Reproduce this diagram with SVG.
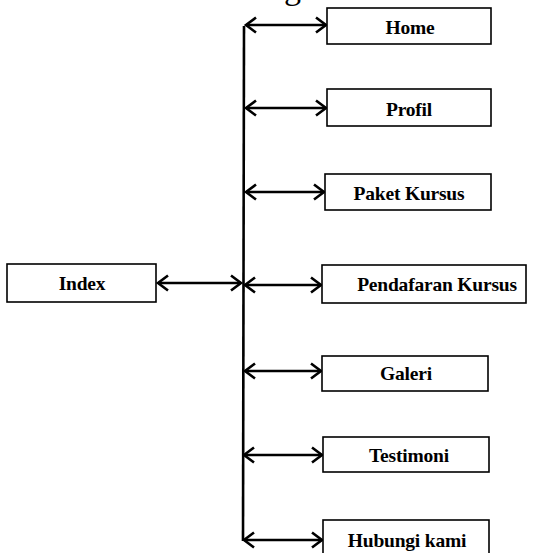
<svg xmlns="http://www.w3.org/2000/svg" width="550" height="553" viewBox="0 0 550 553">
<style>
.box{fill:#fff;stroke:#000;stroke-width:1.6}
.lbl{font-family:"Liberation Serif","Times New Roman",serif;font-weight:bold;font-size:19.5px;letter-spacing:-0.2px;text-anchor:middle;fill:#000}
.cap{font-family:"Liberation Serif","Times New Roman",serif;font-size:34px;fill:#000}
.ln{stroke:#000;stroke-width:2.6;fill:none}
</style>
<defs>
<marker id="ah" markerUnits="userSpaceOnUse" viewBox="-13 -10 16 20" refX="0" refY="0" markerWidth="16" markerHeight="20" orient="auto-start-reverse">
<path d="M-10,-7.5 L0,0 L-10,7.5" fill="none" stroke="#000" stroke-width="2.6"/>
</marker>
</defs>
<text class="cap" x="284" y="-1">g</text>
<g id="connectors">
<line class="ln" x1="244" y1="26" x2="243" y2="541"/>
<line class="ln" x1="158" y1="283" x2="241" y2="283" marker-start="url(#ah)" marker-end="url(#ah)"/>
<line class="ln" x1="246" y1="25" x2="326" y2="25" marker-start="url(#ah)" marker-end="url(#ah)"/>
<line class="ln" x1="246" y1="108" x2="326" y2="108" marker-start="url(#ah)" marker-end="url(#ah)"/>
<line class="ln" x1="246" y1="192" x2="324" y2="192" marker-start="url(#ah)" marker-end="url(#ah)"/>
<line class="ln" x1="245" y1="285" x2="321" y2="285" marker-start="url(#ah)" marker-end="url(#ah)"/>
<line class="ln" x1="245" y1="371" x2="321" y2="371" marker-start="url(#ah)" marker-end="url(#ah)"/>
<line class="ln" x1="244" y1="455" x2="322" y2="455" marker-start="url(#ah)" marker-end="url(#ah)"/>
<line class="ln" x1="244" y1="540" x2="322" y2="540" marker-start="url(#ah)" marker-end="url(#ah)"/>
</g>
<g id="index"><rect class="box" x="7" y="264" width="149" height="38"/><text class="lbl" x="82" y="290">Index</text></g>
<g id="home"><rect class="box" x="327" y="8" width="164" height="36"/><text class="lbl" x="410" y="34">Home</text></g>
<g id="profil"><rect class="box" x="327" y="89" width="164" height="37"/><text class="lbl" x="409" y="116">Profil</text></g>
<g id="paket-kursus"><rect class="box" x="325" y="174" width="166" height="36"/><text class="lbl" x="409" y="200">Paket Kursus</text></g>
<g id="pendafaran-kursus"><rect class="box" x="322" y="265" width="204" height="38"/><text class="lbl" x="437" y="291">Pendafaran Kursus</text></g>
<g id="galeri"><rect class="box" x="322" y="356" width="166" height="35"/><text class="lbl" x="406" y="380">Galeri</text></g>
<g id="testimoni"><rect class="box" x="323" y="437" width="166" height="35"/><text class="lbl" x="409" y="462">Testimoni</text></g>
<g id="hubungi-kami"><rect class="box" x="323" y="520" width="166" height="40"/><text class="lbl" x="407" y="547">Hubungi kami</text></g>
</svg>
